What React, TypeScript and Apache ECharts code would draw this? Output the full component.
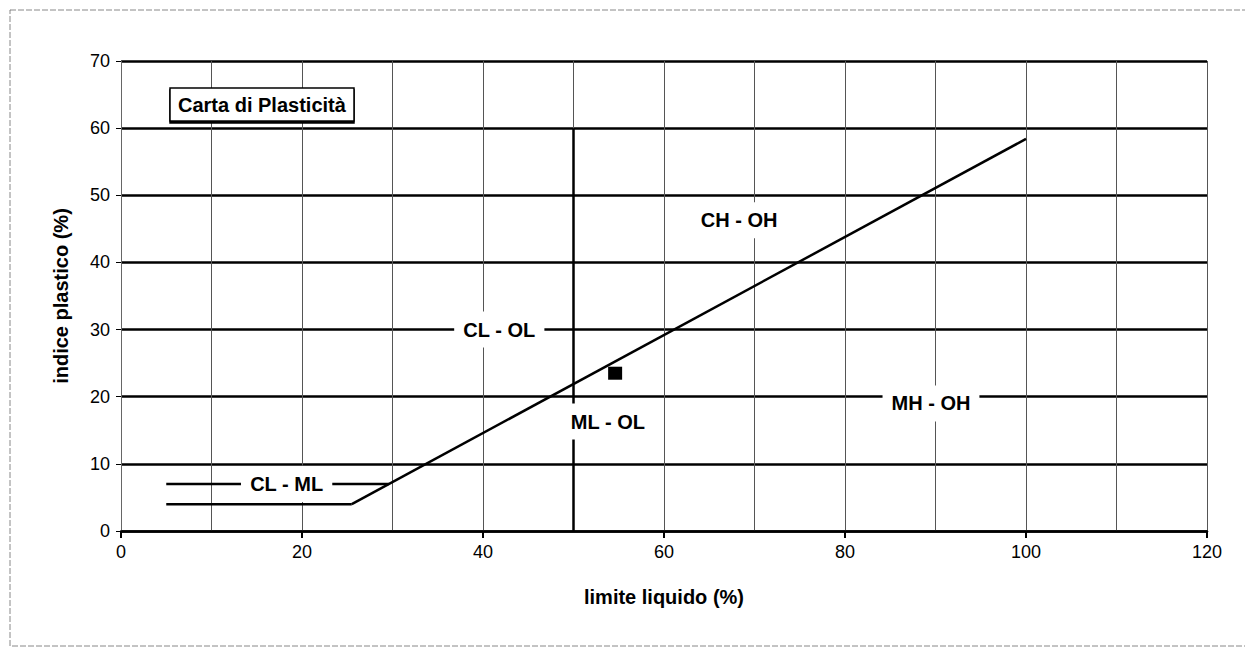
import React, { useEffect, useRef } from "react";
import * as echarts from "echarts";

// A-line (PI = 0.73 (LL - 20)) drawn from the U-shaped start to LL = 100
const aLine: number[][] = [[25.5, 4], [100, 58.4]];
const lowerBand: number[][] = [[5, 4], [25.5, 4]];
const upperBand: number[][] = [[5, 7], [29.6, 7]];
const llLine: number[][] = [[50, 0], [50, 60]];
const sample: number[][] = [[54.6, 23.5]];

const zoneNames = ["CL - ML", "CL - OL", "ML - OL", "CH - OH", "MH - OH"];
const zoneX = [18.3, 41.8, 53.8, 68.3, 89.5];
const zoneY = [7, 30, 16.3, 46.3, 19];

const xTicks = { min: 0, max: 120, interval: 20 };
const yTicks = { min: 0, max: 70, interval: 10 };

const chartTitle = "Carta di Plasticità";
const xName = "limite liquido (%)";
const yName = "indice plastico (%)";

const FONT = "'Liberation Sans', Arial, Helvetica, sans-serif";

export default function App() {
  const ref = useRef<HTMLDivElement>(null);
  useEffect(() => {
    if (!ref.current) return;
    const chart = echarts.init(ref.current, null, { renderer: "svg" });
    const lineStyle = { color: "#000", width: 2.5 };
    const mkLine = (data: number[][]) => ({
      type: "line",
      data,
      symbol: "none",
      lineStyle,
      z: 3,
      silent: true,
    });
    chart.setOption({
      animation: false,
      backgroundColor: "#fff",
      textStyle: { fontFamily: FONT },
      title: {
        text: chartTitle,
        left: 170,
        top: 88,
        padding: [7, 8, 6, 8],
        backgroundColor: "#fff",
        borderColor: "#000",
        borderWidth: 1.5,
        shadowColor: "#000",
        shadowOffsetY: 2,
        shadowBlur: 0,
        textStyle: { fontFamily: FONT, fontSize: 20, fontWeight: "bold", color: "#000" },
        z: 20,
      },
      graphic: [
        {
          type: "rect",
          shape: { x: 10, y: 10, width: 1250, height: 636 },
          style: { fill: "none", stroke: "#888", lineWidth: 1, lineDash: [6, 2] },
          silent: true,
          z: 0,
        },
      ],
      grid: { left: 121, right: 38, top: 61, bottom: 117, containLabel: false },
      xAxis: {
        type: "value",
        ...xTicks,
        name: xName,
        nameLocation: "middle",
        nameGap: 56,
        nameTextStyle: { fontFamily: FONT, fontSize: 20, fontWeight: "bold", color: "#000" },
        axisLine: { show: true, lineStyle: { color: "#000", width: 2.5 } },
        axisTick: { show: true, length: 7, lineStyle: { color: "#000", width: 2 } },
        minorTick: { show: false, splitNumber: 2 },
        axisLabel: { fontFamily: FONT, fontSize: 18, color: "#000", margin: 12 },
        splitLine: { show: true, lineStyle: { color: "#555", width: 1 } },
        minorSplitLine: { show: true, lineStyle: { color: "#555", width: 1 } },
      },
      yAxis: {
        type: "value",
        ...yTicks,
        name: yName,
        nameLocation: "middle",
        nameGap: 50,
        nameTextStyle: { fontFamily: FONT, fontSize: 20, fontWeight: "bold", color: "#000" },
        axisLine: { show: true, lineStyle: { color: "#666", width: 1 } },
        axisTick: { show: true, length: 5, lineStyle: { color: "#000", width: 1 } },
        axisLabel: { fontFamily: FONT, fontSize: 18, color: "#000", margin: 11 },
        splitLine: { show: true, lineStyle: { color: "#000", width: 2.5 } },
      },
      series: [
        mkLine(aLine),
        mkLine(lowerBand),
        mkLine(upperBand),
        mkLine(llLine),
        {
          type: "scatter",
          data: sample,
          symbol: "rect",
          symbolSize: [14, 13],
          itemStyle: { color: "#000", opacity: 1 },
          z: 5,
          silent: true,
        },
        {
          type: "scatter",
          symbolSize: 1,
          itemStyle: { color: "#fff", opacity: 1 },
          z: 10,
          silent: true,
          data: zoneNames.map((n, i) => ({
            value: [zoneX[i], zoneY[i]],
            label: {
              show: true,
              position: "inside",
              formatter: n,
              fontFamily: FONT,
              fontSize: 20,
              fontWeight: "bold",
              color: "#000",
              opacity: 1,
              backgroundColor: "#fff",
              padding: [8, 9, 8, 9],
            },
          })),
        },
      ],
    });
    return () => chart.dispose();
  }, []);
  return (
    <div
      ref={ref}
      style={{ position: "fixed", left: 0, top: 0, width: 1245, height: 648 }}
    />
  );
}
